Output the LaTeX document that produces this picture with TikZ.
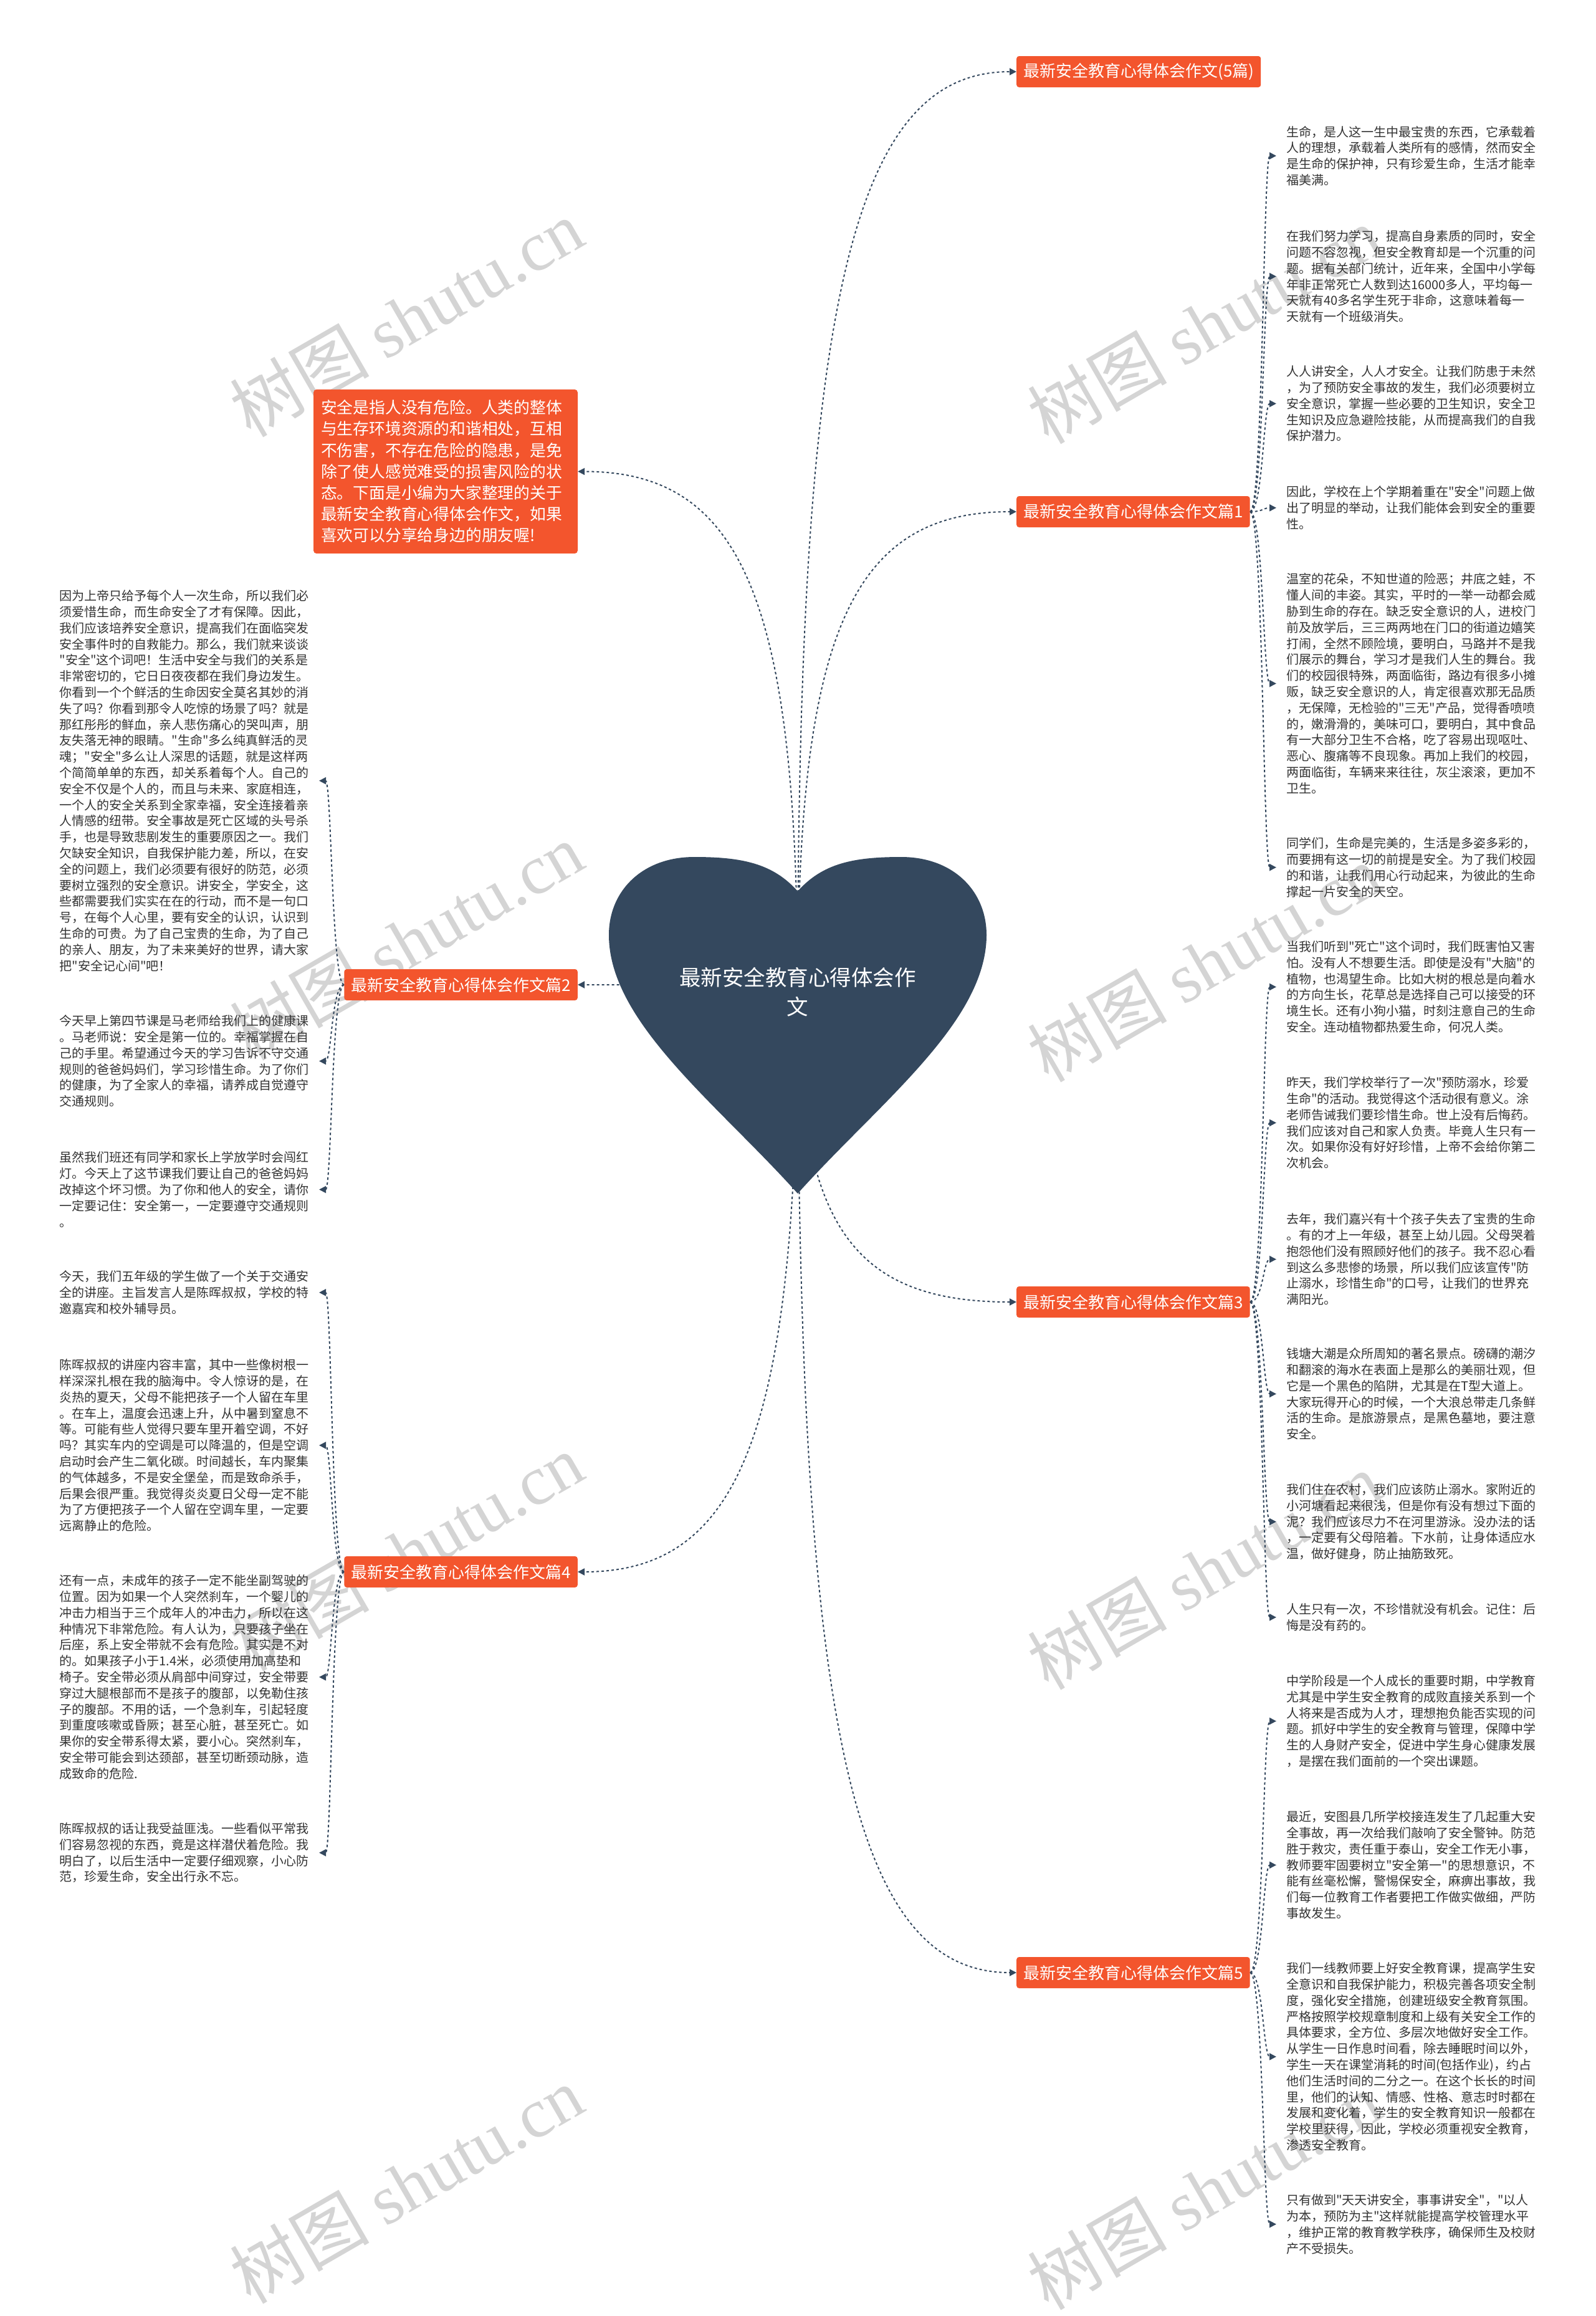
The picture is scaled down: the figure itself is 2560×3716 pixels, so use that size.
\documentclass[tikz,border=0pt]{standalone}
\usepackage{fontspec}
\setmainfont{Noto Sans CJK SC}[Ligatures=TeXOff]
\newfontfamily\wmlat{Liberation Serif}
\usetikzlibrary{arrows.meta,calc}
\definecolor{slate}{RGB}{52,72,94}
\definecolor{orangered}{RGB}{243,85,45}
\definecolor{textgray}{RGB}{51,51,51}
\definecolor{wmgray}{RGB}{212,212,212}
\pgfdeclarelayer{bg}
\pgfsetlayers{bg,main}
\tikzset{
  branch/.style={fill=orangered, text=white, font=\fontsize{26}{30}\selectfont, inner xsep=11pt, inner ysep=0pt, minimum height=50pt, rounded corners=4pt},
  introbox/.style={fill=orangered, text=white, font=\fontsize{25.8}{34.2}\selectfont, text width=400pt, align=left, inner xsep=12pt, inner ysep=17pt, rounded corners=5pt},
  leaf/.style={text=textgray, font=\fontsize{20}{25.8}\selectfont, text width=400pt, align=left, inner xsep=16pt, inner ysep=2pt},
  heartlabel/.style={text=white, font=\fontsize{34.5}{47}\selectfont, align=center, inner sep=0pt},
  wm/.style={text=wmgray, font=\fontsize{112}{120}\selectfont, rotate=30, inner sep=0pt},
  link/.style={draw=slate, line width=2pt, dash pattern=on 4pt off 4pt, -{Triangle[length=11pt,width=11pt]}}
}
\newcommand\hlink[2]{\draw[link] let \p1=(#1), \p2=(#2) in (\p1) .. controls (\x1,{\y1+0.75*(\y2-\y1)}) and ({\x1+0.25*(\x2-\x1)},\y2) .. (\p2);}
\newcommand\llink[2]{\draw[link] let \p1=(#1), \p2=(#2) in (\p1) .. controls ({0.5*\x1+0.5*\x2},\y1) and ({0.5*\x1+0.5*\x2},\y2) .. (\p2);}
\begin{document}
\begin{tikzpicture}[x=1pt,y=-1pt]
\useasboundingbox (0,0) rectangle (2560,3716);
\begin{pgfonlayer}{bg}
\fill[white] (0,0) rectangle (2560,3716);
\node[wm] (wm1) at (652,510) {树图 {\wmlat shutu.cn}};
\node[wm] (wm2) at (1932,521) {树图 {\wmlat shutu.cn}};
\node[wm] (wm3) at (652,1510) {树图 {\wmlat shutu.cn}};
\node[wm] (wm4) at (1932,1545) {树图 {\wmlat shutu.cn}};
\node[wm] (wm5) at (652,2490) {树图 {\wmlat shutu.cn}};
\node[wm] (wm6) at (1932,2520) {树图 {\wmlat shutu.cn}};
\node[wm] (wm7) at (652,3505) {树图 {\wmlat shutu.cn}};
\node[wm] (wm8) at (1932,3515) {树图 {\wmlat shutu.cn}};
\end{pgfonlayer}

% heart
\fill[slate] (1280,1430) .. controls (1240,1385) and (1190,1375) .. (1114,1375)
  .. controls (1030,1375) and (977,1430) .. (977,1500)
  .. controls (977,1640) and (1150,1770) .. (1280,1915)
  .. controls (1410,1770) and (1583,1640) .. (1583,1500)
  .. controls (1583,1430) and (1530,1375) .. (1446,1375)
  .. controls (1370,1375) and (1320,1385) .. (1280,1430) -- cycle;
\node[heartlabel] (hc) at (1280,1592) {最新安全教育心得体会作\\文};

% intro and branches
\node[introbox] (intro) at (715,756.5) {安全是指人没有危险。人类的整体\\
与生存环境资源的和谐相处，互相\\
不伤害，不存在危险的隐患，是免\\
除了使人感觉难受的损害风险的状\\
态。下面是小编为大家整理的关于\\
最新安全教育心得体会作文，如果\\
喜欢可以分享给身边的朋友喔!};
\node[branch, anchor=west] (b0) at (1631,115) {最新安全教育心得体会作文(5篇)};
\node[branch, anchor=west] (b1) at (1631,821) {最新安全教育心得体会作文篇1};
\node[branch, anchor=east] (b2) at (927,1580) {最新安全教育心得体会作文篇2};
\node[branch, anchor=west] (b3) at (1631,2089) {最新安全教育心得体会作文篇3};
\node[branch, anchor=east] (b4) at (927,2522) {最新安全教育心得体会作文篇4};
\node[branch, anchor=west] (b5) at (1631,3165) {最新安全教育心得体会作文篇5};

% right leaves
\node[leaf, anchor=west] (r1) at (2048,250) {生命，是人这一生中最宝贵的东西，它承载着\\
人的理想，承载着人类所有的感情，然而安全\\
是生命的保护神，只有珍爱生命，生活才能幸\\
福美满。};
\node[leaf, anchor=west] (r2) at (2048,443.5) {在我们努力学习，提高自身素质的同时，安全\\
问题不容忽视，但安全教育却是一个沉重的问\\
题。据有关部门统计，近年来，全国中小学每\\
年非正常死亡人数到达16000多人，平均每一\\
天就有40多名学生死于非命，这意味着每一\\
天就有一个班级消失。};
\node[leaf, anchor=west] (r3) at (2048,647.6) {人人讲安全，人人才安全。让我们防患于未然\\
，为了预防安全事故的发生，我们必须要树立\\
安全意识，掌握一些必要的卫生知识，安全卫\\
生知识及应急避险技能，从而提高我们的自我\\
保护潜力。};
\node[leaf, anchor=west] (r4) at (2048,814.8) {因此，学校在上个学期着重在"安全"问题上做\\
出了明显的举动，让我们能体会到安全的重要\\
性。};
\node[leaf, anchor=west] (r5) at (2048,1096.7) {温室的花朵，不知世道的险恶；井底之蛙，不\\
懂人间的丰姿。其实，平时的一举一动都会威\\
胁到生命的存在。缺乏安全意识的人，进校门\\
前及放学后，三三两两地在门口的街道边嬉笑\\
打闹，全然不顾险境，要明白，马路并不是我\\
们展示的舞台，学习才是我们人生的舞台。我\\
们的校园很特殊，两面临街，路边有很多小摊\\
贩，缺乏安全意识的人，肯定很喜欢那无品质\\
，无保障，无检验的"三无"产品，觉得香喷喷\\
的，嫩滑滑的，美味可口，要明白，其中食品\\
有一大部分卫生不合格，吃了容易出现呕吐、\\
恶心、腹痛等不良现象。再加上我们的校园，\\
两面临街，车辆来来往往，灰尘滚滚，更加不\\
卫生。};
\node[leaf, anchor=west] (r6) at (2048,1391.7) {同学们，生命是完美的，生活是多姿多彩的，\\
而要拥有这一切的前提是安全。为了我们校园\\
的和谐，让我们用心行动起来，为彼此的生命\\
撑起一片安全的天空。};
\node[leaf, anchor=west] (r7) at (2048,1583.5) {当我们听到"死亡"这个词时，我们既害怕又害\\
怕。没有人不想要生活。即使是没有"大脑"的\\
植物，也渴望生命。比如大树的根总是向着水\\
的方向生长，花草总是选择自己可以接受的环\\
境生长。还有小狗小猫，时刻注意自己的生命\\
安全。连动植物都热爱生命，何况人类。};
\node[leaf, anchor=west] (r8) at (2048,1801.5) {昨天，我们学校举行了一次"预防溺水，珍爱\\
生命"的活动。我觉得这个活动很有意义。涂\\
老师告诫我们要珍惜生命。世上没有后悔药。\\
我们应该对自己和家人负责。毕竟人生只有一\\
次。如果你没有好好珍惜，上帝不会给你第二\\
次机会。};
\node[leaf, anchor=west] (r9) at (2048,2020.5) {去年，我们嘉兴有十个孩子失去了宝贵的生命\\
。有的才上一年级，甚至上幼儿园。父母哭着\\
抱怨他们没有照顾好他们的孩子。我不忍心看\\
到这么多悲惨的场景，所以我们应该宣传"防\\
止溺水，珍惜生命"的口号，让我们的世界充\\
满阳光。};
\node[leaf, anchor=west] (r10) at (2048,2236.5) {钱塘大潮是众所周知的著名景点。磅礴的潮汐\\
和翻滚的海水在表面上是那么的美丽壮观，但\\
它是一个黑色的陷阱，尤其是在T型大道上。\\
大家玩得开心的时候，一个大浪总带走几条鲜\\
活的生命。是旅游景点，是黑色墓地，要注意\\
安全。};
\node[leaf, anchor=west] (r11) at (2048,2441.6) {我们住在农村，我们应该防止溺水。家附近的\\
小河塘看起来很浅，但是你有没有想过下面的\\
泥？我们应该尽力不在河里游泳。没办法的话\\
，一定要有父母陪着。下水前，让身体适应水\\
温，做好健身，防止抽筋致死。};
\node[leaf, anchor=west] (r12) at (2048,2594.9) {人生只有一次，不珍惜就没有机会。记住：后\\
悔是没有药的。};
\node[leaf, anchor=west] (r13) at (2048,2761.5) {中学阶段是一个人成长的重要时期，中学教育\\
尤其是中学生安全教育的成败直接关系到一个\\
人将来是否成为人才，理想抱负能否实现的问\\
题。抓好中学生的安全教育与管理，保障中学\\
生的人身财产安全，促进中学生身心健康发展\\
，是摆在我们面前的一个突出课题。};
\node[leaf, anchor=west] (r14) at (2048,2992.4) {最近，安图县几所学校接连发生了几起重大安\\
全事故，再一次给我们敲响了安全警钟。防范\\
胜于救灾，责任重于泰山，安全工作无小事，\\
教师要牢固要树立"安全第一"的思想意识，不\\
能有丝毫松懈，警惕保安全，麻痹出事故，我\\
们每一位教育工作者要把工作做实做细，严防\\
事故发生。};
\node[leaf, anchor=west] (r15) at (2048,3299.9) {我们一线教师要上好安全教育课，提高学生安\\
全意识和自我保护能力，积极完善各项安全制\\
度，强化安全措施，创建班级安全教育氛围。\\
严格按照学校规章制度和上级有关安全工作的\\
具体要求，全方位、多层次地做好安全工作。\\
从学生一日作息时间看，除去睡眠时间以外，\\
学生一天在课堂消耗的时间(包括作业)，约占\\
他们生活时间的二分之一。在这个长长的时间\\
里，他们的认知、情感、性格、意志时时都在\\
发展和变化着，学生的安全教育知识一般都在\\
学校里获得，因此，学校必须重视安全教育，\\
渗透安全教育。};
\node[leaf, anchor=west] (r16) at (2048,3568.7) {只有做到"天天讲安全，事事讲安全"，"以人\\
为本，预防为主"这样就能提高学校管理水平\\
，维护正常的教育教学秩序，确保师生及校财\\
产不受损失。};

% left leaves
\node[leaf, anchor=east] (l1) at (512,1252.7) {因为上帝只给予每个人一次生命，所以我们必\\
须爱惜生命，而生命安全了才有保障。因此，\\
我们应该培养安全意识，提高我们在面临突发\\
安全事件时的自救能力。那么，我们就来谈谈\\
"安全"这个词吧！生活中安全与我们的关系是\\
非常密切的，它日日夜夜都在我们身边发生。\\
你看到一个个鲜活的生命因安全莫名其妙的消\\
失了吗？你看到那令人吃惊的场景了吗？就是\\
那红彤彤的鲜血，亲人悲伤痛心的哭叫声，朋\\
友失落无神的眼睛。"生命"多么纯真鲜活的灵\\
魂；"安全"多么让人深思的话题，就是这样两\\
个简简单单的东西，却关系着每个人。自己的\\
安全不仅是个人的，而且与未来、家庭相连，\\
一个人的安全关系到全家幸福，安全连接着亲\\
人情感的纽带。安全事故是死亡区域的头号杀\\
手，也是导致悲剧发生的重要原因之一。我们\\
欠缺安全知识，自我保护能力差，所以，在安\\
全的问题上，我们必须要有很好的防范，必须\\
要树立强烈的安全意识。讲安全，学安全，这\\
些都需要我们实实在在的行动，而不是一句口\\
号，在每个人心里，要有安全的认识，认识到\\
生命的可贵。为了自己宝贵的生命，为了自己\\
的亲人、朋友，为了未来美好的世界，请大家\\
把"安全记心间"吧！};
\node[leaf, anchor=east] (l2) at (512,1702.5) {今天早上第四节课是马老师给我们上的健康课\\
。马老师说：安全是第一位的。幸福掌握在自\\
己的手里。希望通过今天的学习告诉不守交通\\
规则的爸爸妈妈们，学习珍惜生命。为了你们\\
的健康，为了全家人的幸福，请养成自觉遵守\\
交通规则。};
\node[leaf, anchor=east] (l3) at (512,1908.6) {虽然我们班还有同学和家长上学放学时会闯红\\
灯。今天上了这节课我们要让自己的爸爸妈妈\\
改掉这个坏习惯。为了你和他人的安全，请你\\
一定要记住：安全第一，一定要遵守交通规则\\
。};
\node[leaf, anchor=east] (l4) at (512,2073.8) {今天，我们五年级的学生做了一个关于交通安\\
全的讲座。主旨发言人是陈晖叔叔，学校的特\\
邀嘉宾和校外辅导员。};
\node[leaf, anchor=east] (l5) at (512,2319) {陈晖叔叔的讲座内容丰富，其中一些像树根一\\
样深深扎根在我的脑海中。令人惊讶的是，在\\
炎热的夏天，父母不能把孩子一个人留在车里\\
。在车上，温度会迅速上升，从中暑到窒息不\\
等。可能有些人觉得只要车里开着空调，不好\\
吗？其实车内的空调是可以降温的，但是空调\\
启动时会产生二氧化碳。时间越长，车内聚集\\
的气体越多，不是安全堡垒，而是致命杀手，\\
后果会很严重。我觉得炎炎夏日父母一定不能\\
为了方便把孩子一个人留在空调车里，一定要\\
远离静止的危险。};
\node[leaf, anchor=east] (l6) at (512,2690.8) {还有一点，未成年的孩子一定不能坐副驾驶的\\
位置。因为如果一个人突然刹车，一个婴儿的\\
冲击力相当于三个成年人的冲击力，所以在这\\
种情况下非常危险。有人认为，只要孩子坐在\\
后座，系上安全带就不会有危险。其实是不对\\
的。如果孩子小于1.4米，必须使用加高垫和\\
椅子。安全带必须从肩部中间穿过，安全带要\\
穿过大腿根部而不是孩子的腹部，以免勒住孩\\
子的腹部。不用的话，一个急刹车，引起轻度\\
到重度咳嗽或昏厥；甚至心脏，甚至死亡。如\\
果你的安全带系得太紧，要小心。突然刹车，\\
安全带可能会到达颈部，甚至切断颈动脉，造\\
成致命的危险.};
\node[leaf, anchor=east] (l7) at (512,2972.7) {陈晖叔叔的话让我受益匪浅。一些看似平常我\\
们容易忽视的东西，竟是这样潜伏着危险。我\\
明白了，以后生活中一定要仔细观察，小心防\\
范，珍爱生命，安全出行永不忘。};

% connectors
\begin{pgfonlayer}{bg}
\hlink{hc}{b0.west}
\hlink{hc}{intro.east}
\hlink{hc}{b1.west}
\hlink{hc}{b2.east}
\hlink{hc}{b3.west}
\hlink{hc}{b4.east}
\hlink{hc}{b5.west}
\foreach \r in {r1,r2,r3,r4,r5,r6} {\llink{b1.east}{\r.west}}
\foreach \r in {r7,r8,r9,r10,r11,r12} {\llink{b3.east}{\r.west}}
\foreach \r in {r13,r14,r15,r16} {\llink{b5.east}{\r.west}}
\foreach \l in {l1,l2,l3} {\llink{b2.west}{\l.east}}
\foreach \l in {l4,l5,l6,l7} {\llink{b4.west}{\l.east}}
\end{pgfonlayer}
\end{tikzpicture}
\end{document}
